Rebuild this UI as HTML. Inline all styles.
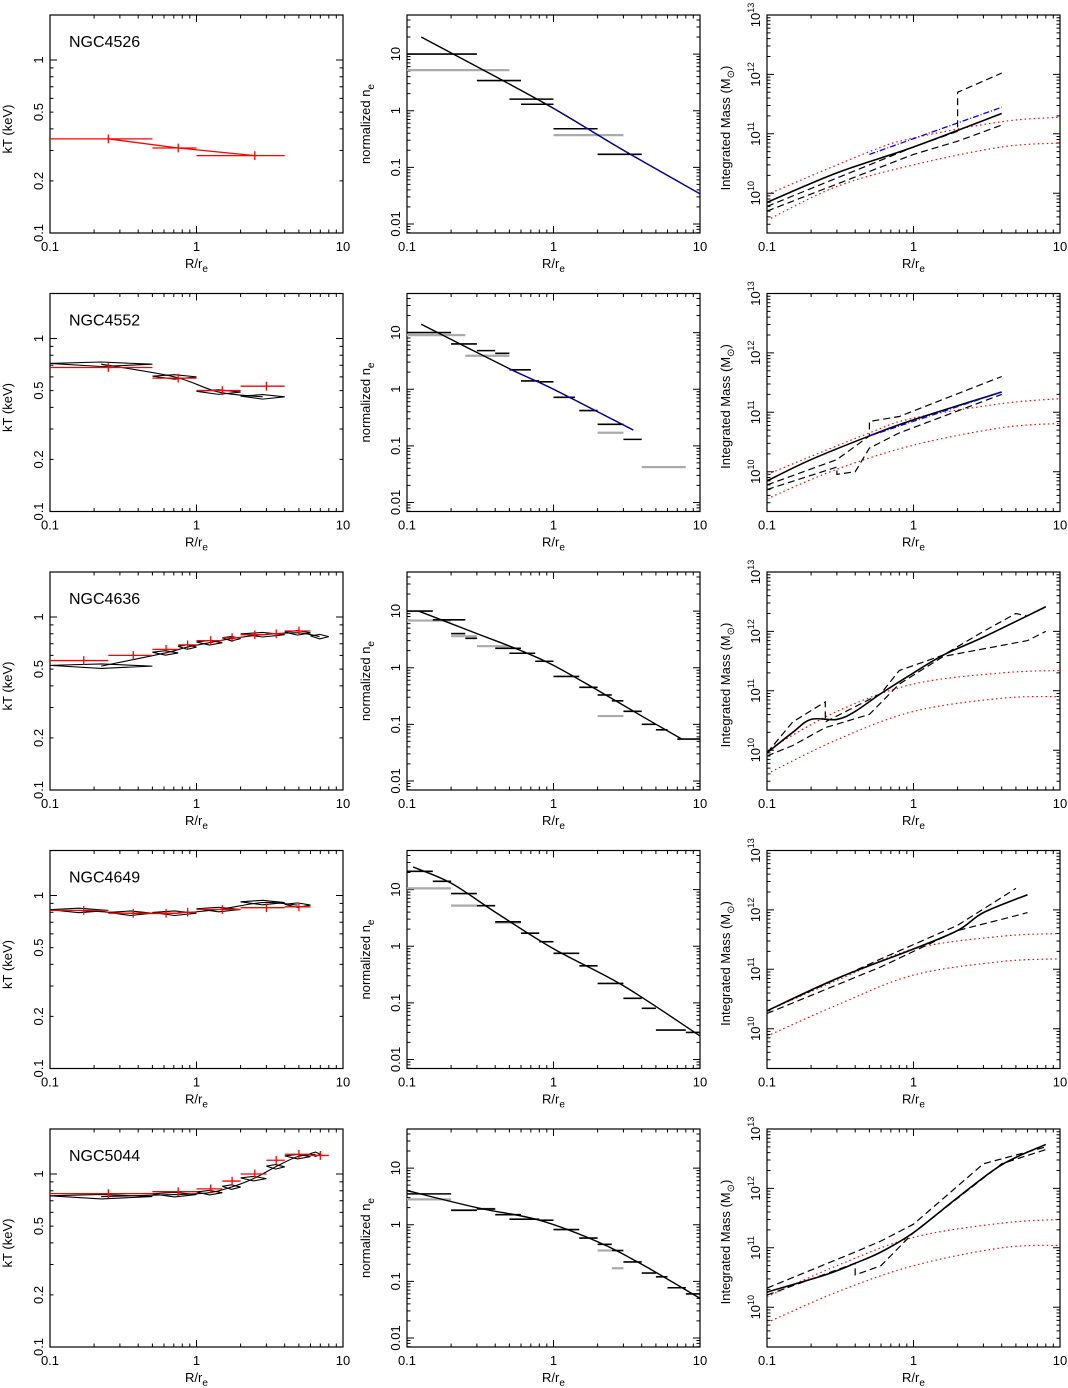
<!DOCTYPE html>
<html><head><meta charset="utf-8">
<style>
html,body{margin:0;padding:0;background:#fff;}
svg{display:block;font-family:"Liberation Sans",sans-serif;}
</style></head>
<body>
<svg id="fig" width="1068" height="1388" viewBox="0 0 1068 1388" xmlns="http://www.w3.org/2000/svg"></svg>
<script>
// ---------- data ----------
const galaxies = ["NGC4526","NGC4552","NGC4636","NGC4649","NGC5044"];
// temperature: red bins [xlo,xhi,xc,kT]
const tRed = [
 [[0.1,0.5,0.25,0.35],[0.5,1,0.75,0.31],[1,4,2.5,0.28]],
 [[0.1,0.5,0.25,0.68],[0.5,1,0.75,0.59],[1,2,1.5,0.50],[2,4,3,0.53]],
 [[0.1,0.25,0.17,0.56],[0.25,0.5,0.37,0.6],[0.5,0.75,0.62,0.65],[0.75,1,0.87,0.69],[1,1.5,1.25,0.73],[1.5,2,1.75,0.76],[2,3,2.5,0.79],[3,4,3.5,0.8],[4,6,5,0.83]],
 [[0.1,0.25,0.17,0.82],[0.25,0.5,0.37,0.79],[0.5,0.75,0.62,0.79],[0.75,1,0.87,0.8],[1,2,1.5,0.83],[2,4,3,0.85],[4,6,5,0.86]],
 [[0.1,0.5,0.25,0.77],[0.5,1,0.75,0.79],[1,1.5,1.25,0.82],[1.5,2,1.75,0.91],[2,3,2.5,1.0],[3,4,3.5,1.2],[4,6,5,1.3],[6,8,7,1.28]]
];
const tBlack = [
 [],
 [[0.1,0.5,0.71],[0.5,1,0.6],[1,2,0.49],[2,4,0.46]],
 [[0.1,0.5,0.52],[0.5,0.75,0.62],[0.75,1,0.67],[1,1.5,0.71],[1.5,2,0.75],[2,4,0.79],[4,6,0.81],[6,8,0.77]],
 [[0.1,0.25,0.82],[0.25,0.5,0.79],[0.5,1,0.79],[1,2,0.83],[2,4,0.91],[4,6,0.88]],
 [[0.1,0.5,0.74],[0.5,1,0.76],[1,1.5,0.78],[1.5,2,0.84],[2,3,0.94],[3,4,1.1],[4,6,1.26],[6,7,1.3]]
];
// density bins [xlo,xhi,ne]
const neBlack = [
 [[0.1,0.3,10],[0.3,0.6,3.4],[0.5,1,1.6],[0.6,1,1.3],[1,2,0.48],[2,4,0.17]],
 [[0.1,0.2,10],[0.2,0.3,6.3],[0.3,0.4,4.8],[0.4,0.5,4.3],[0.5,0.7,2.2],[0.6,0.8,1.4],[0.8,1,1.35],[1,1.4,0.72],[1.5,2,0.42],[2,3,0.24],[3,4,0.13]],
 [[0.1,0.15,10],[0.15,0.25,7],[0.2,0.25,4],[0.25,0.3,3.3],[0.4,0.6,2.2],[0.5,0.75,1.8],[0.75,1,1.3],[1,1.5,0.7],[1.5,2,0.45],[2,2.5,0.33],[2.5,3,0.26],[3,4,0.17],[4,5,0.1],[5,6,0.08],[7,10,0.055]],
 [[0.1,0.15,21],[0.15,0.2,14],[0.2,0.3,8.5],[0.3,0.4,5.2],[0.4,0.6,2.7],[0.6,0.8,1.7],[0.8,1,1.2],[1,1.5,0.75],[1.5,2,0.45],[2,3,0.22],[3,4,0.12],[4,5,0.08],[5,8,0.033],[8,10,0.03]],
 [[0.1,0.2,3.5],[0.2,0.3,1.8],[0.3,0.4,1.9],[0.4,0.6,1.5],[0.5,0.8,1.25],[0.8,1,1.2],[1,1.5,0.82],[1.5,2,0.58],[2,2.5,0.45],[2.5,3,0.35],[3,4,0.22],[4,5,0.14],[5,6,0.12],[6,8,0.077],[8,10,0.06]]
];
const neGray = [
 [[0.1,0.5,5.2],[1,3,0.37]],
 [[0.1,0.25,9],[0.25,0.5,3.9],[2,3,0.17],[4,8,0.042]],
 [[0.1,0.2,6.8],[0.2,0.3,3.6],[0.3,0.5,2.4],[2,3,0.14]],
 [[0.1,0.2,10.5],[0.2,0.3,5.2],[0.4,0.6,2.6]],
 [[0.1,0.2,2.8],[0.2,0.3,1.8],[0.3,0.4,1.9],[2,2.5,0.35],[2.5,3,0.17]]
];
// density model [x, ne]
const neModel = [
 [[0.125,20],[0.3,6],[1,1.1],[3,0.2],[10,0.034]],
 [[0.125,14],[0.5,2.3],[1,1.0],[3.5,0.19]],
 [[0.12,10],[0.3,4],[0.6,2],[1,1.1],[2,0.4],[4,0.14],[7.5,0.055]],
 [[0.11,25],[0.2,13],[0.4,4],[1,0.9],[3,0.2],[10,0.026]],
 [[0.1,4],[0.3,2],[0.8,1.2],[2,0.5],[4,0.2],[10,0.05]]
];
const neBlue = [[0.5,10],[0.5,3.5],null,null,null];
// mass [x, M]
const mSolid = [
 [[0.1,7e9],[0.3,2.2e10],[1,6e10],[4,2.2e11]],
 [[0.1,7e9],[0.2,1.6e10],[0.5,4e10],[1,7.5e10],[4,2.2e11]],
 [[0.1,9e9],[0.15,2e10],[0.2,3.3e10],[0.3,3.3e10],[0.4,4.5e10],[0.6,9e10],[1,2e11],[1.6,4e11],[3,8e11],[8,2.6e12]],
 [[0.1,2e10],[0.3,7e10],[1,2.2e11],[2,4.5e11],[3,9e11],[6,1.8e12]],
 [[0.1,1.8e10],[0.25,3.5e10],[0.4,5.5e10],[0.6,8.5e10],[1,1.8e11],[2,7e11],[4,2.5e12],[8,5.5e12]]
];
const mDashUp = [
 [[0.1,6e9],[1,6e10],[2,1.1e11],[2,5e11],[4,1.05e12]],
 [[0.1,6e9],[0.3,1.6e10],[0.5,4e10],[0.5,7e10],[0.8,8.5e10],[4,4e11]],
 [[0.1,9e9],[0.15,3e10],[0.25,6.5e10],[0.25,3e10],[0.6,9e10],[0.8,2.2e11],[1.6,4e11],[3,1e12],[5,2e12],[6,1.8e12]],
 [[0.1,2e10],[0.6,1.5e11],[2,5.5e11],[5,2.3e12]],
 [[0.1,2.1e10],[0.4,8.5e10],[0.6,1.3e11],[1,2.5e11],[3,2.6e12],[8,5e12]]
];
const mDashLo = [
 [[0.1,5e9],[1,4.5e10],[2,7.5e10],[4,1.4e11]],
 [[0.1,5e9],[0.3,1.2e10],[0.3,9e9],[0.4,1e10],[0.5,2.5e10],[0.8,4.5e10],[4,2e11]],
 [[0.1,8e9],[0.15,1.2e10],[0.25,2.4e10],[0.5,4e10],[0.8,1.3e11],[1.6,3.8e11],[6,7e11],[8,1e12]],
 [[0.1,1.8e10],[0.6,1.1e11],[2,4.5e11],[5,8e11],[6,9e11]],
 [[0.1,1.6e10],[0.4,5.5e10],[0.4,3.5e10],[0.6,5e10],[1,1.8e11],[4,2.6e12],[8,4.5e12]]
];
const mRedUp = [
 [[0.1,9.5e9],[0.5,5e10],[1,8.5e10],[4,1.6e11],[10,1.9e11]],
 [[0.1,9e9],[0.5,4.5e10],[1,8e10],[4,1.4e11],[10,1.7e11]],
 [[0.1,1e10],[0.3,4.5e10],[1,1.3e11],[4,2e11],[10,2.2e11]],
 [[0.1,2e10],[0.3,6.5e10],[1,2.2e11],[4,3.6e11],[10,4e11]],
 [[0.1,1.5e10],[0.3,5e10],[1,1.5e11],[4,2.6e11],[10,3e11]]
];
const mRedLo = [
 [[0.1,3.5e9],[0.3,1.3e10],[1,3e10],[4,6e10],[10,7e10]],
 [[0.1,3.5e9],[0.3,1.1e10],[1,2.8e10],[4,5.5e10],[10,6.5e10]],
 [[0.1,4e9],[0.3,1.5e10],[1,4.5e10],[4,7.5e10],[10,8e10]],
 [[0.1,7.5e9],[0.3,2.5e10],[1,8e10],[4,1.35e11],[10,1.5e11]],
 [[0.1,5.5e9],[0.3,1.8e10],[1,5e10],[4,1e11],[10,1.1e11]]
];
const mBlue = [[[0.5,4.5e10],[4,2.8e11]],[[0.5,4e10],[4,2.2e11]],null,null,null];

// ---------- drawing ----------
const NS="http://www.w3.org/2000/svg";
const svg=document.getElementById('fig');
const colX=[50,407,767], W=293, H=218;
const rowY=[15,293.5,572,850.5,1129];
function el(tag,attrs,parent,txt){const e=document.createElementNS(NS,tag);for(const k in attrs)e.setAttribute(k,attrs[k]);if(txt!=null)e.textContent=txt;(parent||svg).appendChild(e);return e;}
function mkAx(x0,y0,ymin,ymax){
 return {x:v=>x0+(Math.log10(v)+1)/2*W, y:v=>y0+H-(Math.log10(v)-ymin)/(ymax-ymin)*H};
}
function frame(g,x0,y0,ymin,ymax,ylabels){
 const r=el('rect',{x:x0,y:y0,width:W,height:H,fill:'none',stroke:'#000','stroke-width':1.2},g);
 
 
 const ax=mkAx(x0,y0,ymin,ymax);
 let d='';
 for(let e=-1;e<1;e++)for(let m=1;m<10;m++){const v=m*Math.pow(10,e);const px=ax.x(v);const L=m==1?7:3.5;
  d+=`M${px},${y0+H}v${-L}M${px},${y0}v${L}`;}
 for(let e=Math.floor(ymin);e<=Math.ceil(ymax);e++)for(let m=1;m<10;m++){const lv=Math.log10(m)+e;if(lv<ymin||lv>ymax)continue;const py=ax.y(Math.pow(10,lv));const L=m==1?7:3.5;
  d+=`M${x0},${py}h${L}M${x0+W},${py}h${-L}`;}
 el('path',{d:d,stroke:'#000','stroke-width':1,fill:'none'},g);
 [['0.1',0.1],['1',1],['10',10]].forEach(([t,v])=>{const tx=el('text',{x:ax.x(v),y:y0+H+18,'font-size':13,'text-anchor':'middle'},g,t);
  });
 const xt=el('text',{x:x0+W/2,y:y0+H+35,'font-size':13,'text-anchor':'middle'},g);
 
 xt.appendChild(document.createTextNode('R/r'));el('tspan',{'font-size':10,dy:4},xt,'e');
 ylabels.forEach(([t,v,sup])=>{const py=ax.y(v);const tx=el('text',{transform:`translate(${x0-7},${py}) rotate(-90)`,'font-size':13,'text-anchor':'middle'},g,t);
  if(sup)el('tspan',{'font-size':9,dy:-6},tx,sup);
  });
 return ax;
}
function pline(g,pts,ax,attrs){const d=pts.map((p,i)=>(i?'L':'M')+ax.x(p[0]).toFixed(1)+','+ax.y(p[1]).toFixed(1)).join('');
 // smooth via catmull-rom on log space
 const P=pts.map(p=>[ax.x(p[0]),ax.y(p[1])]);let s=`M${P[0][0]},${P[0][1]}`;
 for(let i=0;i<P.length-1;i++){const p0=P[i-1]||P[i],p1=P[i],p2=P[i+1],p3=P[i+2]||P[i+1];
  s+=`C${p1[0]+(p2[0]-p0[0])/6},${p1[1]+(p2[1]-p0[1])/6} ${p2[0]-(p3[0]-p1[0])/6},${p2[1]-(p3[1]-p1[1])/6} ${p2[0]},${p2[1]}`;}
 return el('path',Object.assign({d:attrs.step?d:s,fill:'none'},attrs),g);}

galaxies.forEach((name,i)=>{
 const y0=rowY[i];
 // ---- temperature panel
 let g=el('g',{},svg);
 let ax=frame(g,colX[0],y0,-1,0.26,[['0.1',0.1],['0.2',0.2],['0.5',0.5],['1',1]]);
 const lab=el('text',{x:colX[0]+19,y:y0+32,'font-size':16},g,name);
 
 if(tBlack[i].length){
  tBlack[i].forEach(b=>{const xc=Math.sqrt(b[0]*b[1]);
   el('path',{d:`M${ax.x(b[0])},${ax.y(b[2]*1.01)}L${ax.x(xc)},${ax.y(b[2]*0.97)}L${ax.x(b[1])},${ax.y(b[2]*1.0)}L${ax.x(xc)},${ax.y(b[2]*1.03)}Z`,fill:'none',stroke:'#000','stroke-width':1.1},g);});
  pline(g,tBlack[i].map(b=>[Math.sqrt(b[0]*b[1]),b[2]]),ax,{stroke:'#000','stroke-width':1.1});
 }
 tRed[i].forEach(b=>{const py=ax.y(b[3]);
  const s=el('path',{d:`M${ax.x(b[0])},${py}H${ax.x(b[1])}M${ax.x(b[2])},${ax.y(b[3]*1.06)}V${ax.y(b[3]/1.06)}`,stroke:'#f00','stroke-width':1.3,fill:'none'},g);
  });
 if(i==0)el('path',{d:tRed[0].map((b,k)=>(k?'L':'M')+ax.x(b[2])+','+ax.y(b[3])).join(''),stroke:'#f00','stroke-width':1.3,fill:'none'},g);
 const yt=el('text',{transform:`translate(${colX[0]-38},${y0+H/2+5}) rotate(-90)`,'font-size':13,'text-anchor':'middle'},g,'kT (keV)');
 

 // ---- density panel
 g=el('g',{},svg);
 ax=frame(g,colX[1],y0,-2.16,1.69,[['0.01',0.01],['0.1',0.1],['1',1],['10',10]]);
 neGray[i].forEach(b=>{const s=el('path',{d:`M${ax.x(b[0])},${ax.y(b[2])}H${ax.x(b[1])}`,stroke:'#aaa','stroke-width':2.2},g);
  });
 neBlack[i].forEach(b=>{const s=el('path',{d:`M${ax.x(b[0])},${ax.y(b[2])}H${ax.x(b[1])}`,stroke:'#000','stroke-width':1.6},g);
  });
 const m=pline(g,neModel[i],ax,{stroke:'#000','stroke-width':1.4});
 
 if(neBlue[i]){const pts=neModel[i].filter(p=>p[0]>=neBlue[i][0]);
  el('path',{d:pts.map((p,k)=>(k?'L':'M')+ax.x(p[0])+','+ax.y(p[1])).join(''),stroke:'#00f','stroke-width':1.2,'stroke-dasharray':'6 3',fill:'none'},g);}
 const yt2=el('text',{transform:`translate(${colX[1]-37},${y0+H/2}) rotate(-90)`,'font-size':13,'text-anchor':'middle'},g,'normalized n');
 el('tspan',{'font-size':10,dy:4},yt2,'e');
 

 // ---- mass panel
 g=el('g',{},svg);
 ax=frame(g,colX[2],y0,9.33,13,[['10',1e10,'10'],['10',1e11,'11'],['10',1e12,'12'],['10',1e13,'13']]);
 [mRedUp[i],mRedLo[i]].forEach(a=>{const p=pline(g,a,ax,{stroke:'#f00','stroke-width':1.2,'stroke-dasharray':'1.5 3'});
  });
 [mDashUp[i],mDashLo[i]].forEach(a=>{const p=pline(g,a,ax,{stroke:'#000','stroke-width':1.2,'stroke-dasharray':'7 4',step:true});
  });
 const sm=pline(g,mSolid[i],ax,{stroke:'#000','stroke-width':1.6});
 
 if(mBlue[i])el('path',{d:mBlue[i].map((p,k)=>(k?'L':'M')+ax.x(p[0])+','+ax.y(p[1])).join(''),stroke:'#00f','stroke-width':1.3,'stroke-dasharray':'6 2 1 2',fill:'none'},g);
 const yt3=el('text',{transform:`translate(${colX[2]-37},${y0+H/2+4}) rotate(-90)`,'font-size':13,'text-anchor':'middle'},g,'Integrated Mass  (M');
 el('tspan',{'font-size':10,dy:4},yt3,'⊙');el('tspan',{dy:-4},yt3,')');
 
});
</script>
</body></html>
